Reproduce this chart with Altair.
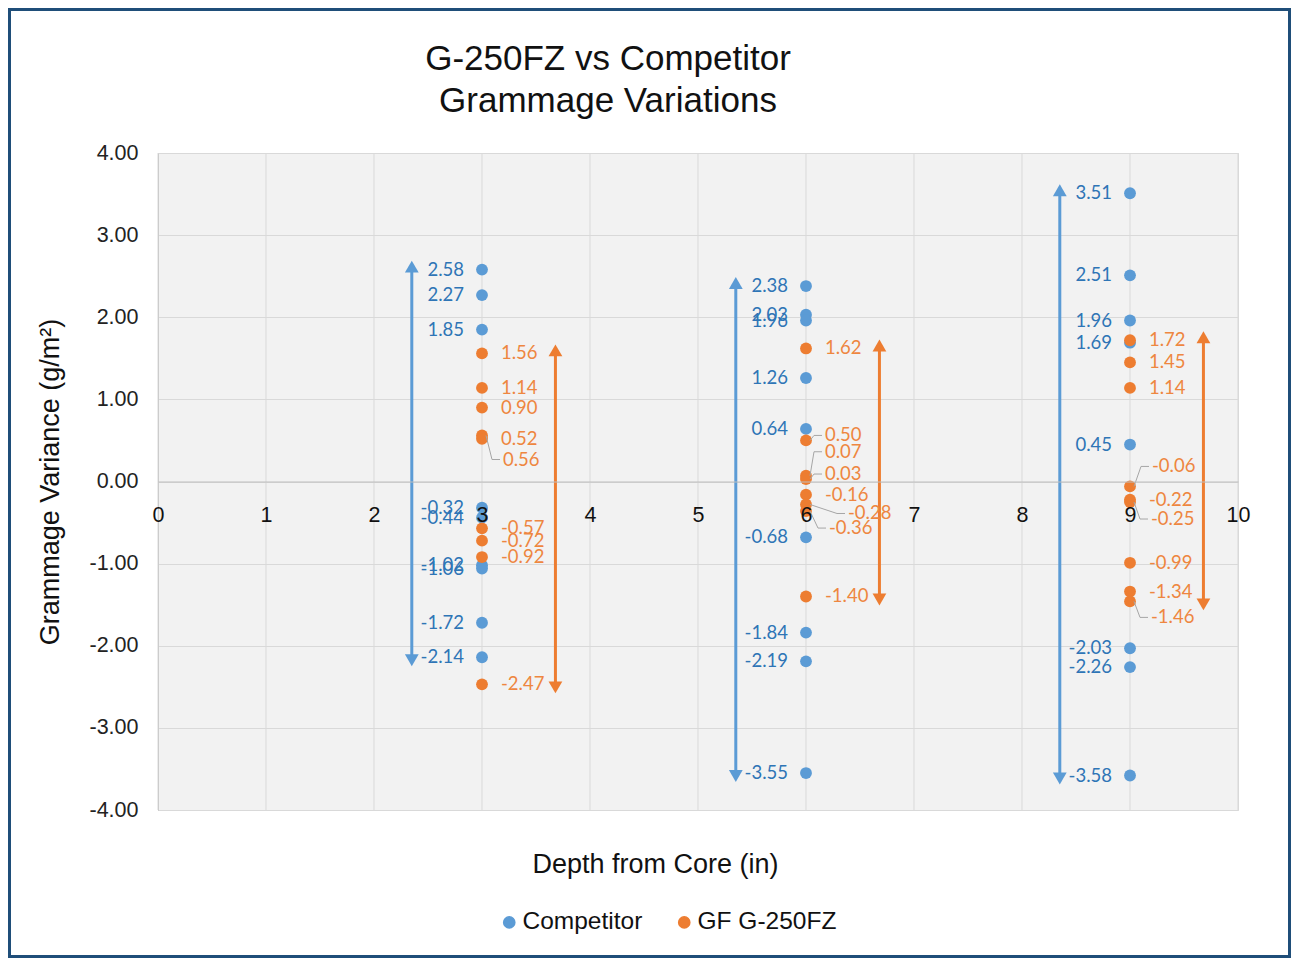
import altair as alt
import pandas as pd

# ---------------- data ----------------
series_names = ["Competitor", "GF G-250FZ"]
depths = [3, 6, 9]

comp_3 = [2.58, 2.27, 1.85, -0.32, -0.44, -1.02, -1.06, -1.72, -2.14]
comp_6 = [2.38, 2.03, 1.96, 1.26, 0.64, -0.68, -1.84, -2.19, -3.55]
comp_9 = [3.51, 2.51, 1.96, 1.69, 0.45, -2.03, -2.26, -3.58]

gf_3 = [1.56, 1.14, 0.90, 0.56, 0.52, -0.57, -0.72, -0.92, -2.47]
gf_6 = [1.62, 0.50, 0.07, 0.03, -0.16, -0.28, -0.36, -1.40]
gf_9 = [1.72, 1.45, 1.14, -0.06, -0.22, -0.25, -0.99, -1.34, -1.46]

x_ticks = list(range(0, 11))
y_ticks = [-4, -3, -2, -1, 0, 1, 2, 3, 4]

# label nudges in pixels for crowded data labels (Excel moved these ones)
label_nudges = {
    ("GF G-250FZ", 3, 0.56): (2, 24),
    ("GF G-250FZ", 6, 0.50): (0, -5),
    ("GF G-250FZ", 6, 0.07): (0, -24),
    ("GF G-250FZ", 6, 0.03): (0, -5),
    ("GF G-250FZ", 6, -0.28): (23, 9),
    ("GF G-250FZ", 6, -0.36): (4, 17),
    ("GF G-250FZ", 9, -0.06): (3, -20),
    ("GF G-250FZ", 9, -0.25): (2, 17),
    ("GF G-250FZ", 9, -1.46): (2, 16),
}

BLUE = "#5B9BD5"
ORANGE = "#ED7D31"
BLUE_TXT = "#2E75B6"
ORANGE_TXT = "#EE8640"
GF_DX = 19
COMP_DX = -18

W, H = 1080, 657
PAD = {"left": 150, "top": 145, "right": 53, "bottom": 148}
PX_X = W / 10.0   # pixels per x unit
PX_Y = H / 8.0    # pixels per y unit

rows = []
for name, groups in [("Competitor", [comp_3, comp_6, comp_9]),
                     ("GF G-250FZ", [gf_3, gf_6, gf_9])]:
    for d, vals in zip(depths, groups):
        for v in vals:
            ndx, ndy = label_nudges.get((name, d, v), (0, 0))
            rows.append({"series": name, "depth": d, "value": v,
                         "label": f"{v:.2f}",
                         "lx": d + ndx / PX_X, "ly": v - ndy / PX_Y})
df = pd.DataFrame(rows)

# leader lines for nudged labels (point -> elbow -> label)
lead_rows = []
for i, ((name, d, v), (ndx, ndy)) in enumerate(label_nudges.items()):
    end_px = GF_DX + ndx - 3
    ly = v - ndy / PX_Y
    lead_rows.append({"id": i, "k": 0, "x": d + 4 / PX_X, "y": v})
    lead_rows.append({"id": i, "k": 1, "x": d + (end_px - 8) / PX_X, "y": ly})
    lead_rows.append({"id": i, "k": 2, "x": d + end_px / PX_X, "y": ly})
lead_df = pd.DataFrame(lead_rows)

color_scale = alt.Scale(domain=series_names, range=[BLUE, ORANGE])
x_scale = alt.Scale(domain=[0, 10], nice=False, zero=False)
y_scale = alt.Scale(domain=[-4, 4], nice=False)

x_enc = alt.X("depth:Q", scale=x_scale,
              axis=alt.Axis(values=x_ticks, format="d", offset=-H / 2,
                            title="Depth from Core (in)",
                            titleX=497, titleY=383, titleBaseline="middle",
                            titleFontSize=27, titleFontWeight="normal",
                            titleFont="Liberation Sans", titleColor="#111",
                            labelFontSize=21.5, labelPadding=23, labelFont="Liberation Sans",
                            labelColor="#111", labelFlush=False, labelOverlap=False,
                            ticks=False, domainColor="#BFBFBF",
                            grid=False, zindex=1))
y_enc = alt.Y("value:Q", scale=y_scale,
              axis=alt.Axis(values=y_ticks,
                            labelExpr="replace(format(datum.value, '.2f'), '\u2212', '-')",
                            title="Grammage Variance (g/m\u00b2)",
                            titleX=-108, titleBaseline="middle", titleFontSize=27,
                            titleFontWeight="normal", titleFont="Liberation Sans",
                            titleColor="#111", labelFontSize=21.5, labelPadding=20,
                            labelFont="Liberation Sans", labelColor="#222",
                            ticks=False, domainColor="#BFBFBF", grid=True,
                            gridColor="#D9D9D9", zindex=0))

base = alt.Chart(df)

# vertical gridlines at the x tick values (behind everything)
vgrid = alt.Chart(pd.DataFrame({"t": x_ticks})).mark_rule(
    color="#D9D9D9", strokeWidth=1
).encode(x=alt.X("t:Q", scale=x_scale))

legend = alt.Legend(title=None, orient="none", legendX=339, legendY=757,
                    direction="horizontal", symbolType="circle",
                    symbolSize=125, labelFontSize=24.5,
                    labelFont="Liberation Sans", labelColor="#111",
                    columnPadding=29, labelOffset=1)

points = base.mark_circle(size=140, opacity=1).encode(
    x=x_enc, y=y_enc,
    color=alt.Color("series:N", scale=color_scale, legend=legend),
)

comp_labels = base.transform_filter("datum.series == 'Competitor'").mark_text(
    align="right", baseline="middle", dx=COMP_DX, fontSize=18.5, font="Lato", color=BLUE_TXT
).encode(x="lx:Q", y="ly:Q", text="label:N")

gf_labels = base.transform_filter("datum.series == 'GF G-250FZ'").mark_text(
    align="left", baseline="middle", dx=GF_DX, fontSize=18.5, font="Lato", color=ORANGE_TXT
).encode(x="lx:Q", y="ly:Q", text="label:N")

leaders = alt.Chart(lead_df).mark_line(color="#A6A6A6", strokeWidth=1).encode(
    x="x:Q", y="y:Q", detail="id:N", order="k:Q")

arrow_base = base.transform_aggregate(
    top="max(value)", bottom="min(value)", groupby=["series", "depth"]
).transform_calculate(ax="datum.depth + (datum.series == 'Competitor' ? -0.65 : 0.68)")

arrow_color = alt.Color("series:N", scale=color_scale, legend=legend)
arrow_line = arrow_base.mark_rule(strokeWidth=3).encode(
    x="ax:Q", y="top:Q", y2="bottom:Q", color=arrow_color)
arrow_up = arrow_base.mark_point(shape="triangle-up", filled=True, size=190, opacity=1,
                                 yOffset=-3).encode(x="ax:Q", y="top:Q", color=arrow_color)
arrow_down = arrow_base.mark_point(shape="triangle-down", filled=True, size=190, opacity=1,
                                   yOffset=3).encode(x="ax:Q", y="bottom:Q", color=arrow_color)

frame = alt.Chart(pd.DataFrame({"a": [0]})).mark_rect(
    fillOpacity=0, stroke="#1F4E79", strokeWidth=3
).encode(x=alt.value(-148.5), x2=alt.value(W + PAD["right"] - 1.5),
         y=alt.value(-PAD["top"] + 1.5), y2=alt.value(H + PAD["bottom"] - 1.5))

chart = alt.layer(
    vgrid, arrow_line, arrow_up, arrow_down, points, leaders, comp_labels, gf_labels, frame
).properties(
    width=W, height=H,
    title=alt.TitleParams(["G-250FZ vs Competitor", "Grammage Variations"],
                          fontSize=35, font="Liberation Sans", fontWeight="normal",
                          color="#111", lineHeight=42, anchor="middle", dx=-90,
                          offset=0, dy=111),
    padding=PAD,
    autosize=alt.AutoSizeParams(type="none"),
    background="white",
).configure_view(fill="#F2F2F2", stroke="#D9D9D9", strokeWidth=1)

chart.save("out.html", embed_options={"renderer": "svg", "actions": False})
